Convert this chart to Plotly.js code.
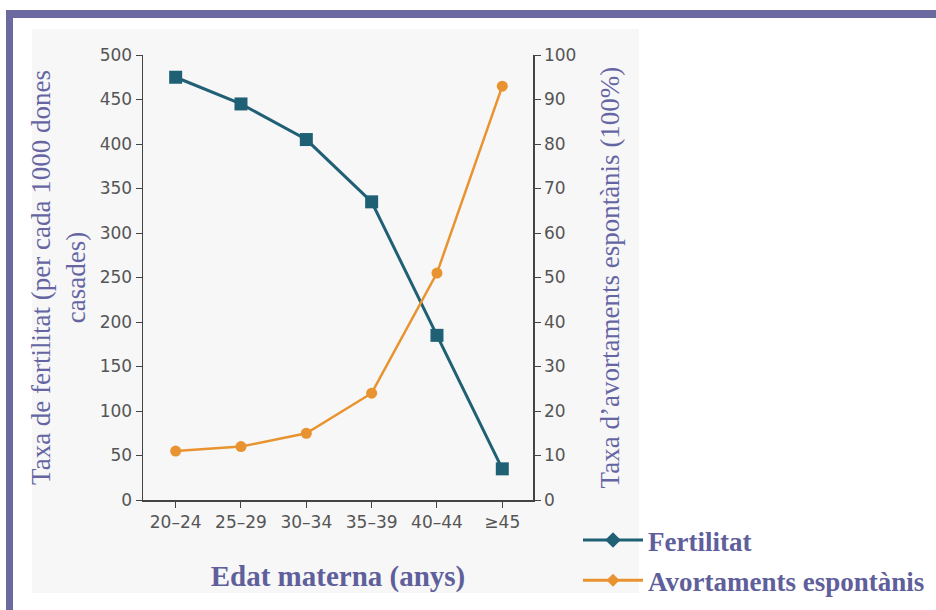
<!DOCTYPE html>
<html>
<head>
<meta charset="utf-8">
<script src="https://cdn.plot.ly/plotly-3.0.1.min.js"></script>
<style>html,body{margin:0;padding:0;background:#fff;}</style>
</head>
<body>
<div id="chart" style="width:936px;height:610px;"></div>
<script>
const categories = ["20–24", "25–29", "30–34", "35–39", "40–44", "≥45"];
const fertilitat = [475, 445, 405, 335, 185, 35];
const avortaments = [11, 12, 15, 24, 51, 93];
const leftTicks = [0, 50, 100, 150, 200, 250, 300, 350, 400, 450, 500];
const rightTicks = [0, 10, 20, 30, 40, 50, 60, 70, 80, 90, 100];

const teal = '#1f6075';
const orange = '#e8932f';
const purple = '#5f5f9c';

// plot area in pixels
const L = 143, R = 533, T = 55, B = 500, W = 936, H = 610;
const px = x => (x - L) / (R - L);
const py = y => (B - y) / (B - T);

const idx = categories.map((_, i) => i);

const traces = [
  {x: idx, y: fertilitat, type: 'scatter', mode: 'lines+markers', name: 'Fertilitat',
   line: {color: teal, width: 3}, marker: {symbol: 'square', size: 13, color: teal},
   showlegend: false, yaxis: 'y', hoverinfo: 'skip'},
  {x: idx, y: avortaments, type: 'scatter', mode: 'lines+markers', name: 'Avortaments espontànis',
   line: {color: orange, width: 2.5}, marker: {symbol: 'circle', size: 11, color: orange},
   showlegend: false, yaxis: 'y2', hoverinfo: 'skip'},
  {x: [null], y: [null], type: 'scatter', mode: 'lines+markers', name: 'Fertilitat',
   line: {color: teal, width: 3}, marker: {symbol: 'diamond', size: 12, color: teal},
   legendgroup: 'a'},
  {x: [null], y: [null], type: 'scatter', mode: 'lines+markers', name: 'Avortaments espontànis',
   line: {color: orange, width: 3}, marker: {symbol: 'diamond', size: 10, color: orange},
   legendgroup: 'b'}
];

const tickFont = {family: 'DejaVu Sans', size: 17, color: '#555'};
const titleFont = {family: 'Liberation Serif', size: 27, color: '#6565a3', weight: 'normal'};

const layout = {
  width: W, height: H,
  margin: {l: L, r: W - R, t: T, b: H - B, autoexpand: false},
  paper_bgcolor: '#ffffff',
  plot_bgcolor: 'rgba(0,0,0,0)',
  showlegend: true,
  legend: {x: px(578), y: py(516), xanchor: 'left', yanchor: 'top',
           font: {family: 'Liberation Serif', size: 27, color: purple, weight: 'bold'},
           bgcolor: 'rgba(0,0,0,0)', tracegroupgap: 2, itemwidth: 60},
  xaxis: {
    range: [-0.5, 5.47], tickvals: idx, ticktext: categories,
    showgrid: false, zeroline: false, showline: true, linecolor: '#444', linewidth: 1.5,
    ticks: 'outside', ticklen: 6, tickcolor: '#444', tickfont: tickFont,
    title: {text: 'Edat materna (anys)', font: {family: 'Liberation Serif', size: 29, color: purple, weight: 'bold'}, standoff: 35}
  },
  yaxis: {
    range: [0, 500], tickvals: leftTicks,
    showgrid: false, zeroline: false, showline: true, linecolor: '#444', linewidth: 1.5,
    ticks: 'outside', ticklen: 6, tickcolor: '#444', tickfont: tickFont,
    title: {text: 'Taxa de fertilitat (per cada 1000 dones<br>casades)', font: titleFont, standoff: 6}
  },
  yaxis2: {
    range: [0, 100], tickvals: rightTicks, overlaying: 'y', side: 'right',
    showgrid: false, zeroline: false, showline: true, linecolor: '#444', linewidth: 1.5,
    ticks: 'outside', ticklen: 6, tickcolor: '#444', tickfont: tickFont,
    title: {text: 'Taxa d’avortaments espontànis (100%)', font: titleFont, standoff: 24}
  },
  shapes: [
    {type: 'rect', xref: 'paper', yref: 'paper', layer: 'below',
     x0: px(32), x1: px(639), y0: py(593), y1: py(29),
     fillcolor: '#f7f7f7', line: {width: 0}},
    {type: 'rect', xref: 'paper', yref: 'paper', layer: 'above',
     x0: px(6), x1: px(936), y0: py(18), y1: py(10),
     fillcolor: '#6a6aa0', line: {width: 0}},
    {type: 'rect', xref: 'paper', yref: 'paper', layer: 'above',
     x0: px(6), x1: px(13), y0: py(610), y1: py(10),
     fillcolor: '#6a6aa0', line: {width: 0}}
  ]
};

Plotly.newPlot('chart', traces, layout, {displayModeBar: false, staticPlot: true});
</script>
</body>
</html>
